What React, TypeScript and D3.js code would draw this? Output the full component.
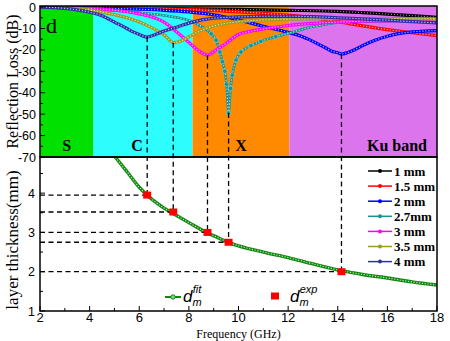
import React from "react";
import * as d3 from "d3";

const W = 450, H = 341;
const freqDomain: [number, number] = [2, 18];
const rlDomain: [number, number] = [-70, 0.5];
const thDomain: [number, number] = [1, 4.92];

const bandEdges = [2, 4.15, 8.15, 12.05, 18];
const bandColors = ["#00e100", "#2dfdfd", "#ff8a00", "#dc74ee"];
const bandNames = ["S", "C", "X", "Ku band"];

const seriesNames = ["1 mm", "1.5 mm", "2 mm", "2.7mm", "3 mm", "3.5 mm", "4 mm"];
const seriesColors = ["#000000", "#ff0000", "#0000ff", "#169494", "#ff00ff", "#9c9c22", "#2e2eaa"];

const rl1mm: [number, number][] = [[2, 0], [4, -0.2], [6, -0.5], [8, -0.8], [10, -1.1], [12, -1.5], [14, -2], [15, -2.6], [16, -3.3], [17, -4], [18, -4.8]];
const rl15mm: [number, number][] = [[2, 0], [4, -0.2], [6, -0.5], [8, -1.2], [10, -2.2], [11, -2.9], [12, -3.8], [13, -5], [14, -6.8], [15, -8.8], [16, -10.5], [17, -12], [18, -13.3]];
const rl2mm: [number, number][] = [[2, 0], [4, -0.4], [6, -1], [7, -1.5], [8, -2.3], [9, -3.6], [10, -6], [11, -9], [12, -11.8], [12.5, -13.5], [13, -16], [13.5, -19], [13.8, -20.8], [14, -21.3], [14.15, -21.9], [14.4, -21.2], [14.7, -19.8], [15, -18], [15.5, -15.5], [16, -13.6], [16.5, -12.3], [17, -11.6], [17.5, -11.2], [18, -11]];
const rl27mm: [number, number][] = [[2, -0.1], [3, -0.4], [4, -0.9], [5, -1.6], [6, -2.6], [7, -3.9], [7.5, -4.8], [8, -6.2], [8.5, -9], [8.9, -12.5], [9.1, -15.5], [9.25, -21], [9.35, -25.5], [9.45, -30], [9.52, -36], [9.6, -49.5], [9.68, -38], [9.75, -31.8], [9.9, -24.7], [10.1, -21], [10.5, -18], [10.9, -16], [11.5, -13.8], [12.1, -12], [12.6, -10.3], [13.1, -9], [13.6, -7.9], [14.1, -7.2], [15, -6.8], [16, -6.6], [17, -6.5], [18, -6.4]];
const rl3mm: [number, number][] = [[2, 0], [4, -0.7], [5, -1.5], [6, -3.2], [6.5, -4.6], [7, -7], [7.5, -11.5], [8, -16.5], [8.4, -20.5], [8.75, -22.4], [9.1, -20], [9.5, -17], [10, -12.8], [10.5, -11.3], [11, -10.2], [12, -8.6], [13, -7.6], [14, -7], [16, -6.4], [18, -6]];
const rl35mm: [number, number][] = [[2, 0], [3, -0.5], [4, -1.4], [5, -3.5], [5.5, -5], [6, -7], [6.5, -9.6], [7, -13], [7.4, -16.6], [7.8, -15.2], [8.2, -12.6], [8.6, -10.4], [9, -8.8], [9.5, -7.6], [10, -6.8], [11, -6], [12, -5.6], [14, -5.4], [16, -5.4], [18, -5.5]];
const rl4mm: [number, number][] = [[2, 0], [3, -0.6], [4, -2.4], [4.5, -4], [5, -7], [5.5, -10], [5.75, -11.6], [6, -12.8], [6.3, -14], [6.7, -12.6], [7, -11.2], [7.5, -9.4], [8, -7.5], [9, -5.2], [10, -4.6], [11, -4.3], [12, -4.3], [13, -4.5], [14, -5], [15, -5.5], [16, -6.1], [17, -6.8], [18, -7.4]];
const rlSeries = [rl1mm, rl15mm, rl2mm, rl27mm, rl3mm, rl35mm, rl4mm];

const fitThickness: [number, number][] = [[4.9, 5.02], [5.03, 4.92], [5.5, 4.55], [6, 4.15], [6.3, 3.96], [6.7, 3.75], [7, 3.62], [7.4, 3.47], [8, 3.25], [8.7, 3.0], [9.2, 2.86], [9.6, 2.74], [10, 2.66], [11, 2.5], [12, 2.36], [13, 2.2], [14.2, 2.02], [15, 1.93], [16, 1.84], [17, 1.74], [18, 1.66]];
const expFreq = [6.32, 7.37, 8.75, 9.6, 14.15];
const expThickness = [3.95, 3.52, 3.0, 2.75, 2.0];
const peakRL = [-14, -16.6, -22.4, -49.5, -21.9];

const rlTicks = [0, -10, -20, -30, -40, -50, -60, -70];
const thTicks = [1, 2, 3, 4];
const freqTicks = [2, 4, 6, 8, 10, 12, 14, 16, 18];

const L = 40, R = 437, T = 6, MID = 157, B = 311;
const SERIF = "'Liberation Serif','Times New Roman',serif";
const SANS = "'Liberation Sans',Arial,sans-serif";

export default function App() {
  const x = d3.scaleLinear().domain(freqDomain).range([L, R]);
  const yRL = d3.scaleLinear().domain(rlDomain).range([MID, T]);
  const yTh = d3.scaleLinear().domain(thDomain).range([B, MID]);
  const lineRL = d3.line<[number, number]>().x(d => x(d[0])).y(d => yRL(d[1])).curve(d3.curveMonotoneX);
  const lineTh = d3.line<[number, number]>().x(d => x(d[0])).y(d => yTh(d[1])).curve(d3.curveMonotoneX);

  const minorRL = d3.range(-65, 0, 10);
  const minorTh = [1.5, 2.5, 3.5, 4.5];
  const minorF = d3.range(3, 18, 2);

  const bandLabelX = (i: number) => {
    const mid = (x(bandEdges[i]) + x(bandEdges[i + 1])) / 2;
    return i === 3 ? x(bandEdges[4]) - 10 : i === 1 ? mid - 6 : mid;
  };

  return (
    <svg width={W} height={H} style={{ position: "absolute", left: 0, top: 0, background: "#fff" }}>
      <defs>
        <clipPath id="cTop"><rect x={L} y={T} width={R - L} height={MID - T} /></clipPath>
        <clipPath id="cBot"><rect x={L} y={MID} width={R - L} height={B - MID} /></clipPath>
      </defs>
      {bandColors.map((c, i) => (
        <rect key={i} x={x(bandEdges[i])} y={T} width={x(bandEdges[i + 1]) - x(bandEdges[i])} height={MID - T} fill={c} />
      ))}
      {bandNames.map((n, i) => (
        <text key={n} x={bandLabelX(i)} y={151} textAnchor={i === 3 ? "end" : "middle"} fontFamily={SERIF} fontWeight="bold" fontSize={16}>{n}</text>
      ))}
      <text x={46} y={33} fontFamily={SERIF} fontSize={22}>d</text>
      <g clipPath="url(#cTop)">
        {rlSeries.map((s, i) => (
          <g key={i}>
            <path d={lineRL(s) || ""} fill="none" stroke={seriesColors[i]} strokeWidth={i === 3 ? 2.6 : 3.2} />
            <path d={lineRL(s) || ""} fill="none" stroke={i === 0 ? "#bbbbbb" : "#ffffff"} strokeOpacity={0.75} strokeWidth={1.1} strokeDasharray="1.2 1.8" />
          </g>
        ))}
        {rl27mm.filter(d => d[1] < -12).map((d, j) => (
          <circle key={j} cx={x(d[0])} cy={yRL(d[1])} r={2.3} fill={seriesColors[3]} stroke="#7fd0d0" strokeWidth={0.7} />
        ))}
      </g>
      <g clipPath="url(#cBot)">
        <path d={lineTh(fitThickness) || ""} fill="none" stroke="#118811" strokeWidth={3.4} />
        <path d={lineTh(fitThickness) || ""} fill="none" stroke="#c8f0c8" strokeWidth={1.1} strokeDasharray="1.2 1.6" />
      </g>
      {expFreq.map((f, i) => (
        <g key={i} stroke="#000" strokeWidth={1.3} strokeDasharray="5 3.5" fill="none">
          <line x1={x(f)} x2={x(f)} y1={yRL(peakRL[i])} y2={yTh(expThickness[i])} />
          <line x1={L} x2={x(f)} y1={yTh(expThickness[i])} y2={yTh(expThickness[i])} />
        </g>
      ))}
      {expFreq.map((f, i) => (
        <rect key={i} x={x(f) - 4} y={yTh(expThickness[i]) - 3.5} width={8} height={7} fill="#ff0000" />
      ))}
      <rect x={L} y={T} width={R - L} height={MID - T} fill="none" stroke="#000" strokeWidth={1.5} />
      <rect x={L} y={MID} width={R - L} height={B - MID} fill="none" stroke="#000" strokeWidth={1.5} />
      <g stroke="#000" strokeWidth={1}>
        {rlTicks.map(t => <line key={t} x1={L} x2={L + 5} y1={yRL(t)} y2={yRL(t)} />)}
        {minorRL.map(t => <line key={t} x1={L} x2={L + 3} y1={yRL(t)} y2={yRL(t)} />)}
        {thTicks.map(t => <line key={t} x1={L} x2={L + 5} y1={yTh(t)} y2={yTh(t)} />)}
        {minorTh.map(t => <line key={t} x1={L} x2={L + 3} y1={yTh(t)} y2={yTh(t)} />)}
        {freqTicks.map(t => <line key={t} x1={x(t)} x2={x(t)} y1={B} y2={B - 5} />)}
        {minorF.map(t => <line key={t} x1={x(t)} x2={x(t)} y1={B} y2={B - 3} />)}
      </g>
      <g fontFamily={SANS} fontSize={12.5} textAnchor="end">
        {rlTicks.map(t => <text key={t} x={36} y={yRL(t) + 4.5}>{t}</text>)}
        {thTicks.map(t => <text key={t} x={35} y={yTh(t) + 4.5}>{t}</text>)}
      </g>
      <g fontFamily={SANS} fontSize={13} textAnchor="middle">
        {freqTicks.map(t => <text key={t} x={x(t)} y={322}>{t}</text>)}
      </g>
      <text x={(L + R) / 2} y={338} textAnchor="middle" fontFamily={SERIF} fontSize={12}>Frequency (GHz)</text>
      <text transform={`translate(18,${(T + MID) / 2}) rotate(-90)`} textAnchor="middle" fontFamily={SERIF} fontSize={16}>Reflection Loss (dB)</text>
      <text transform={`translate(18,${(MID + B) / 2 + 6}) rotate(-90)`} textAnchor="middle" fontFamily={SERIF} fontSize={17}>layer thickness(mm)</text>
      {seriesNames.map((n, i) => (
        <g key={n} transform={`translate(368,${171 + i * 15.1})`}>
          <line x1={0} x2={24} y1={0} y2={0} stroke={seriesColors[i]} strokeWidth={1.5} />
          <circle cx={12} cy={0} r={2} fill={seriesColors[i]} />
          <text x={26} y={4.5} fontFamily={SERIF} fontWeight="bold" fontSize={13}>{n}</text>
        </g>
      ))}
      <g transform="translate(165,297)">
        <line x1={0} x2={16} y1={0} y2={0} stroke="#118811" strokeWidth={2} />
        <circle cx={8} cy={0} r={2.2} fill="#8fd08f" stroke="#118811" />
        <text x={18} y={5} fontFamily={SANS} fontStyle="italic" fontSize={17}>d
          <tspan fontSize={11} dy={4}>m</tspan>
          <tspan fontSize={11} dx={-9} dy={-13}>fit</tspan>
        </text>
      </g>
      <g transform="translate(275,296)">
        <rect x={-4} y={-3.5} width={8} height={7} fill="#ff0000" />
        <text x={15} y={6} fontFamily={SANS} fontStyle="italic" fontSize={17}>d
          <tspan fontSize={11} dy={4}>m</tspan>
          <tspan fontSize={11} dx={-9} dy={-13}>exp</tspan>
        </text>
      </g>
    </svg>
  );
}
